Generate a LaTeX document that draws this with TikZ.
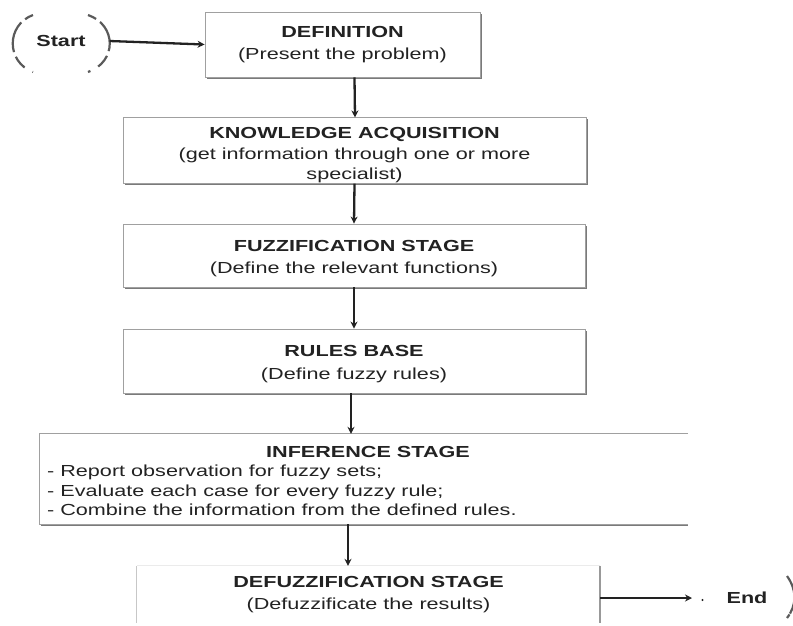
\documentclass[tikz,border=0pt]{standalone}
\usepackage{fontspec}
\setmainfont{Liberation Sans}[FakeStretch=1.35]
\usetikzlibrary{arrows.meta,shadows,shapes.geometric}
\definecolor{txt}{HTML}{222222}
\definecolor{edge}{HTML}{A0A0A0}
\definecolor{shade}{HTML}{7A7A7A}
\definecolor{parcol}{HTML}{5A5A5A}
\newcommand\mfs{\fontsize{16}{22.5}\selectfont}
\newcommand\kfs{\fontsize{16}{20.5}\selectfont}
\newcommand\ifs{\fontsize{16}{19.5}\selectfont}
\begin{document}
\begin{tikzpicture}[x=1pt,y=-1pt,
  stagebox/.style={draw=edge,line width=0.9pt,fill=white,rectangle,inner sep=0pt,
    align=center,text=txt,font=\mfs,
    drop shadow={shadow xshift=1.5pt,shadow yshift=-1.5pt,fill=shade,opacity=1}},
  arr/.style={draw=txt,line width=2.3pt,-{Stealth[length=7pt,width=7pt]}},
  paren/.style={draw=parcol,line width=2.2pt,dash pattern=on 9pt off 5pt on 32pt off 5pt on 14pt},
  edgeline/.style={draw=edge,line width=0.9pt},
  shadeline/.style={draw=shade,line width=1.2pt}]
\useasboundingbox (0,0) rectangle (793,625);

% Start terminal
\node[ellipse,draw=none,minimum width=97pt,minimum height=57pt,inner sep=0pt,
      font=\mfs\bfseries,text=txt] (start) at (61,41) {Start};
\draw[paren] (33,15) .. controls (6,25) and (6,62) .. (33,72);
\draw[paren] (88,15) .. controls (117,25) and (117,62) .. (88,72);

% Boxes
\node[stagebox,minimum width=275pt,minimum height=65pt] (def) at (342.5,44.5)
  {\textbf{DEFINITION}\\(Present the problem)};
\node[stagebox,minimum width=463pt,minimum height=63pt,font=\kfs] (ka) at (354.5,150.5)
  {\rule{0pt}{21pt}\textbf{KNOWLEDGE ACQUISITION}\\(get information through one or more\\specialist)};
\node[stagebox,minimum width=462pt,minimum height=63pt] (fuz) at (354,255.5)
  {\rule{0pt}{17pt}\textbf{FUZZIFICATION STAGE}\\(Define the relevant functions)};
\node[stagebox,minimum width=462pt,minimum height=64pt] (rb) at (354,361)
  {\rule{0pt}{17pt}\textbf{RULES BASE}\\(Define fuzzy rules)};

% Inference box (open on the right)
\node[rectangle,draw=none,minimum width=648pt,minimum height=90pt,inner sep=0pt] (inf) at (364,479) {};
\draw[shadeline] ([xshift=1.5pt,yshift=-1.5pt]inf.south west) -- ([yshift=-1.5pt]inf.south east);
\draw[edgeline] (inf.north east) -- (inf.north west) -- (inf.south west) -- (inf.south east);
\node[font=\ifs\bfseries,text=txt,inner sep=0pt] (inft) at (368,452) {INFERENCE STAGE};
\node[font=\ifs,text=txt,align=left,anchor=north west,inner sep=0pt] (infl) at (47,465)
  {- Report observation for fuzzy sets;\\- Evaluate each case for every fuzzy rule;\\- Combine the information from the defined rules.};

% Defuzzification box (cut at the bottom)
\node[rectangle,draw=none,minimum width=463pt,minimum height=57pt,inner sep=0pt,
      align=center,text=txt,font=\mfs] (defz) at (368.5,594.5)
  {\textbf{DEFUZZIFICATION STAGE}\\(Defuzzificate the results)};
\draw[draw=black!8,line width=0.8pt] (defz.north west) -- (defz.north east);
\draw[draw=black!22,line width=1.2pt] (defz.north west) -- (defz.south west);
\draw[draw=black!40,line width=1.5pt] (defz.north east) -- (defz.south east);

% End terminal
\node[font=\mfs\bfseries,text=txt,inner sep=0pt] (endn) at (747,598) {End};
\coordinate (endtip) at (692,598);
\fill[txt] (702.5,600) circle (1.1pt);
\draw[paren,dash pattern=on 40pt off 1pt] (787,576) .. controls (797,590) and (797,605) .. (787,618);

% Connectors
\draw[arr] (start.east) -- (def.west);
\draw[arr] ([xshift=12pt]def.south) -- ([xshift=0.5pt]ka.north);
\draw[arr] (ka.south) -- (fuz.north);
\draw[arr] (fuz.south) -- (rb.north);
\draw[arr] ([xshift=-3pt]rb.south) -- ([xshift=-13pt]inf.north);
\draw[arr] ([xshift=-16pt]inf.south) -- ([xshift=-20.5pt]defz.north);
\draw[arr] ([yshift=-3.5pt]defz.east) -- (endtip);
\end{tikzpicture}
\end{document}
